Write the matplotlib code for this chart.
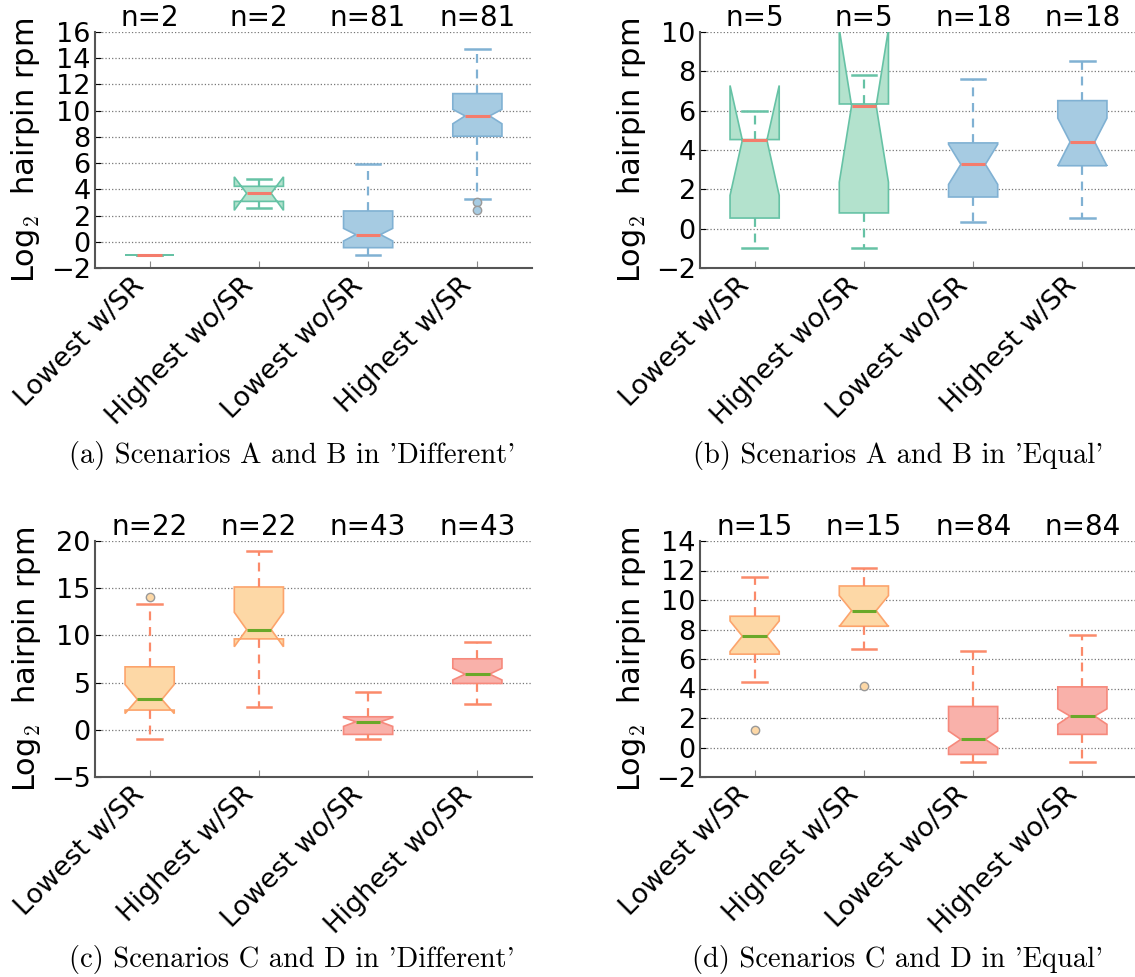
import matplotlib
matplotlib.use("Agg")
import matplotlib.pyplot as plt

plt.rcParams["font.family"] = "DejaVu Sans"
plt.rcParams["mathtext.fontset"] = "cm"

# category labels
labels_ab = ["Lowest w/SR", "Highest wo/SR", "Lowest wo/SR", "Highest w/SR"]
labels_cd = ["Lowest w/SR", "Highest w/SR", "Lowest wo/SR", "Highest wo/SR"]

# (a) Scenarios A and B in 'Different'
a_n = [2, 2, 81, 81]
a_med = [-1.0, 3.7, 0.55, 9.6]
a_q1 = [-1.0, 3.08, -0.45, 8.05]
a_q3 = [-1.0, 4.23, 2.35, 11.3]
a_lo = [-1.0, 2.6, -1.0, 3.3]
a_hi = [-1.0, 4.82, 5.9, 14.7]
a_cilo = [-1.0, 2.4, 0.06, 9.0]
a_cihi = [-1.0, 4.95, 1.02, 10.1]
a_fliers = [[], [], [], [3.05, 2.45]]

# (b) Scenarios A and B in 'Equal'
b_n = [5, 5, 18, 18]
b_med = [4.5, 6.25, 3.27, 4.41]
b_q1 = [0.54, 0.8, 1.61, 3.2]
b_q3 = [4.53, 6.34, 4.36, 6.51]
b_lo = [-1.0, -1.0, 0.34, 0.54]
b_hi = [6.0, 7.8, 7.61, 8.51]
b_cilo = [1.69, 2.36, 2.25, 3.19]
b_cihi = [7.28, 10.14, 4.29, 5.62]
b_fliers = [[], [], [], []]

# (c) Scenarios C and D in 'Different'
c_n = [22, 22, 43, 43]
c_med = [3.22, 10.62, 0.85, 5.9]
c_q1 = [2.09, 9.63, -0.49, 4.91]
c_q3 = [6.67, 15.13, 1.38, 7.52]
c_lo = [-1.0, 2.37, -1.0, 2.69]
c_hi = [13.34, 18.94, 4.03, 9.32]
c_cilo = [1.72, 8.8, 0.36, 5.28]
c_cihi = [4.8, 12.45, 1.3, 6.52]
c_fliers = [[14.04], [], [], []]

# (d) Scenarios C and D in 'Equal'
d_n = [15, 15, 84, 84]
d_med = [7.55, 9.28, 0.55, 2.13]
d_q1 = [6.33, 8.22, -0.47, 0.89]
d_q3 = [8.9, 10.95, 2.78, 4.11]
d_lo = [4.45, 6.71, -1.0, -1.0]
d_hi = [11.54, 12.19, 6.55, 7.64]
d_cilo = [6.51, 8.2, -0.01, 1.57]
d_cihi = [8.58, 10.3, 1.12, 2.62]
d_fliers = [[1.18], [4.16], [], []]

green = dict(face="#b3e2cd", edge="#66c2a5", whisk="#66c2a5", med="#f47c6c")
blue = dict(face="#a6cbe2", edge="#80b1d3", whisk="#80b1d3", med="#f47c6c")
orange = dict(face="#fdd8a6", edge="#fca46c", whisk="#fb8a6a", med="#6aa829")
red = dict(face="#f9b1aa", edge="#f6897c", whisk="#fb8a6a", med="#6aa829")

W, H = 1135, 977
fig = plt.figure(figsize=(W / 100, H / 100), dpi=100)


def panel(rect, labels, n, med, q1, q3, lo, hi, cilo, cihi, fliers, colors,
          ylim, yticks, caption, cap_xy):
    ax = fig.add_axes([rect[0] / W, 1 - rect[3] / H,
                       (rect[2] - rect[0]) / W, (rect[3] - rect[1]) / H])
    stats = []
    for i in range(len(labels)):
        stats.append(dict(med=med[i], q1=q1[i], q3=q3[i], whislo=lo[i],
                          whishi=hi[i], cilo=cilo[i], cihi=cihi[i],
                          fliers=fliers[i], label=labels[i]))
    bp = ax.bxp(stats, positions=range(1, 5), widths=0.45, shownotches=True,
                patch_artist=True)
    for i, c in enumerate(colors):
        bp["boxes"][i].set(facecolor=c["face"], edgecolor=c["edge"], linewidth=1.2)
        bp["medians"][i].set(color=c["med"], linewidth=2.2)
        for w in bp["whiskers"][2 * i:2 * i + 2]:
            w.set(color=c["whisk"], linewidth=1.6, linestyle=(0, (4, 3)))
        for cp in bp["caps"][2 * i:2 * i + 2]:
            cp.set(color=c["whisk"], linewidth=1.8)
        bp["fliers"][i].set(marker="o", markerfacecolor=c["face"],
                            markeredgecolor="#999999", markersize=6)
    ax.set_xlim(0.5, 4.5)
    ax.set_ylim(*ylim)
    ax.set_yticks(yticks)
    ax.set_xticks(range(1, 5))
    ax.set_xticklabels(labels, rotation=45, ha="right", fontsize=19.5)
    ax.tick_params(axis="y", labelsize=19.5, direction="in", length=4, pad=3)
    ax.tick_params(axis="x", direction="in", length=5, color="#888888")
    ax.spines["top"].set_visible(False)
    ax.spines["right"].set_visible(False)
    for s in ("left", "bottom"):
        ax.spines[s].set_color("#555555")
        ax.spines[s].set_linewidth(1.5)
    ax.yaxis.grid(True, linestyle=":", color="#777777", linewidth=0.9)
    ax.set_axisbelow(True)
    ax.set_ylabel("Log$_2$  hairpin rpm", fontsize=22, labelpad=6)
    for i, k in enumerate(n):
        ax.text(i + 1, ylim[1], f"n={k}", ha="center", va="bottom", fontsize=20)
    fig.text(cap_xy[0] / W, 1 - cap_xy[1] / H, caption, ha="center",
             va="center", fontsize=20.5, family="cmr10")
    return ax


panel((95, 32, 532, 268), labels_ab, a_n, a_med, a_q1, a_q3, a_lo, a_hi,
      a_cilo, a_cihi, a_fliers, [green, green, blue, blue],
      (-2, 16), range(-2, 17, 2), "(a) Scenarios A and B in 'Different'", (292, 456))
panel((700, 32, 1137, 268), labels_ab, b_n, b_med, b_q1, b_q3, b_lo, b_hi,
      b_cilo, b_cihi, b_fliers, [green, green, blue, blue],
      (-2, 10), range(-2, 11, 2), "(b) Scenarios A and B in 'Equal'", (898, 456))
panel((95, 541, 532, 777), labels_cd, c_n, c_med, c_q1, c_q3, c_lo, c_hi,
      c_cilo, c_cihi, c_fliers, [orange, orange, red, red],
      (-5, 20), range(-5, 21, 5), "(c) Scenarios C and D in 'Different'", (292, 960))
panel((700, 541, 1137, 777), labels_cd, d_n, d_med, d_q1, d_q3, d_lo, d_hi,
      d_cilo, d_cihi, d_fliers, [orange, orange, red, red],
      (-2, 14), range(-2, 15, 2), "(d) Scenarios C and D in 'Equal'", (898, 960))

fig.savefig("out.png", dpi=100)
